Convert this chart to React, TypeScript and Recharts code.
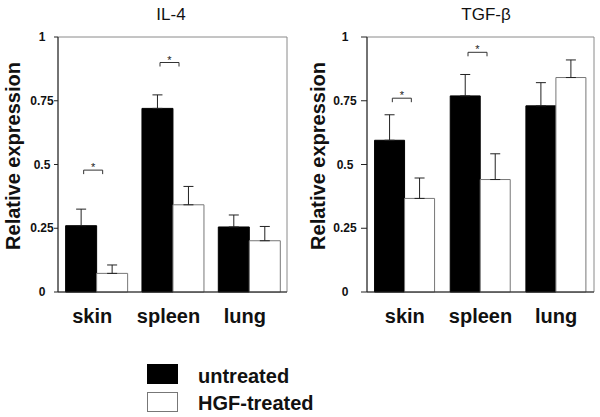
import React from 'react';
import { BarChart, Bar, XAxis, YAxis, ErrorBar, ReferenceArea, ReferenceDot, Label } from 'recharts';

const categories = ['skin', 'spleen', 'lung'];
const yTicks = [0, 0.25, 0.5, 0.75, 1];

// IL-4 panel
const il4Untreated = [0.26, 0.72, 0.255];
const il4UntreatedErr = [0.065, 0.053, 0.047];
const il4Treated = [0.073, 0.342, 0.201];
const il4TreatedErr = [0.033, 0.072, 0.056];
const il4Sig = [
  { category: 'skin', level: 0.478 },
  { category: 'spleen', level: 0.9 },
];

// TGF-beta panel
const tgfUntreated = [0.595, 0.769, 0.73];
const tgfUntreatedErr = [0.1, 0.084, 0.091];
const tgfTreated = [0.367, 0.441, 0.841];
const tgfTreatedErr = [0.08, 0.101, 0.069];
const tgfSig = [
  { category: 'skin', level: 0.76 },
  { category: 'spleen', level: 0.94 },
];

const legendItems = [
  { key: 'untreated', label: 'untreated', fill: '#000', stroke: '#000' },
  { key: 'treated', label: 'HGF-treated', fill: '#fff', stroke: '#777' },
];

const FONT = 'Arial, "Liberation Sans", Helvetica, sans-serif';

const buildRows = (untreated: number[], untreatedErr: number[], treated: number[], treatedErr: number[]) =>
  categories.map((name, i) => ({
    name,
    untreated: untreated[i],
    untreatedErr: [0, untreatedErr[i]],
    treated: treated[i],
    treatedErr: [0, treatedErr[i]],
  }));

// bracket + asterisk, drawn around the category position
const SigBracket = ({ cx, cy }: any) => {
  if (cx == null || cy == null) return null;
  return (
    <g>
      <path
        d={`M${cx - 12.5},${cy + 4} V${cy} H${cx + 6.5} V${cy + 4}`}
        stroke="#333"
        strokeWidth={1}
        fill="none"
      />
      <text x={cx - 3} y={cy + 1} textAnchor="middle" fontSize={11} fill="#222" fontFamily={FONT}>
        *
      </text>
    </g>
  );
};

interface PanelProps {
  title: string;
  rows: any[];
  sig: { category: string; level: number }[];
  left: number;
  axisWidth: number;
  marginRight: number;
  tickSize: number;
  tickOffset: number;
  labelX: number;
  xLabelDx: number;
  titleCenter: number;
}

const Panel: React.FC<PanelProps> = ({
  title, rows, sig, left, axisWidth, marginRight, tickSize, tickOffset, labelX, xLabelDx, titleCenter,
}) => {
  const YTick = ({ x, y, payload }: any) => (
    <text
      x={x - tickOffset}
      y={y}
      textAnchor="middle"
      dominantBaseline="central"
      fontSize={12}
      fontWeight="bold"
      fill="#111"
      fontFamily={FONT}
    >
      {payload.value}
    </text>
  );

  const XTick = ({ x, y, payload }: any) => (
    <text
      x={x + xLabelDx}
      y={y + 31}
      textAnchor="middle"
      fontSize={20}
      fontWeight="bold"
      fill="#111"
      fontFamily={FONT}
    >
      {payload.value}
    </text>
  );

  return (
    <div style={{ position: 'absolute', left, top: 0, width: 300, height: 340 }}>
      <div
        style={{
          position: 'absolute',
          left: titleCenter - 60,
          top: 6,
          width: 120,
          textAlign: 'center',
          fontSize: 17,
          lineHeight: '17px',
          color: '#111',
          fontFamily: FONT,
        }}
      >
        {title}
      </div>
      <BarChart
        width={300}
        height={340}
        data={rows}
        margin={{ top: 37, right: marginRight, bottom: 8, left: 0 }}
        barCategoryGap="10%"
        barGap={0}
      >
        <ReferenceArea y1={0} y2={1} fill="none" stroke="#8a8a8a" strokeWidth={1} ifOverflow="visible" />
        <XAxis
          dataKey="name"
          height={40}
          tickLine={false}
          tickSize={0}
          tickMargin={0}
          axisLine={{ stroke: '#222' }}
          tick={<XTick />}
          interval={0}
        />
        <YAxis
          width={axisWidth}
          domain={[0, 1]}
          ticks={yTicks}
          tickSize={tickSize}
          tickMargin={0}
          tickLine={{ stroke: '#222' }}
          axisLine={{ stroke: '#222' }}
          tick={<YTick />}
          interval={0}
        >
          <Label
            content={() => (
              <text
                x={labelX}
                y={156}
                transform={`rotate(-90 ${labelX} 156)`}
                textAnchor="middle"
                dominantBaseline="central"
                fontSize={20}
                fontWeight="bold"
                fill="#111"
                fontFamily={FONT}
              >
                Relative expression
              </text>
            )}
          />
        </YAxis>
        <Bar dataKey="untreated" fill="#000" stroke="#000" isAnimationActive={false}>
          <ErrorBar dataKey="untreatedErr" direction="y" width={5} stroke="#222" strokeWidth={1} isAnimationActive={false} />
        </Bar>
        <Bar dataKey="treated" fill="#fff" stroke="#777" isAnimationActive={false}>
          <ErrorBar dataKey="treatedErr" direction="y" width={5} stroke="#222" strokeWidth={1} isAnimationActive={false} />
        </Bar>
        {sig.map((s) => (
          <ReferenceDot
            key={s.category}
            x={s.category}
            y={s.level}
            r={0}
            ifOverflow="visible"
            shape={<SigBracket />}
          />
        ))}
      </BarChart>
    </div>
  );
};

const App: React.FC = () => {
  const il4Rows = buildRows(il4Untreated, il4UntreatedErr, il4Treated, il4TreatedErr);
  const tgfRows = buildRows(tgfUntreated, tgfUntreatedErr, tgfTreated, tgfTreatedErr);

  return (
    <div
      style={{
        position: 'absolute',
        left: 0,
        top: 0,
        width: 600,
        height: 417,
        background: '#fff',
        fontFamily: FONT,
        overflow: 'hidden',
      }}
    >
      <Panel
        title="IL-4"
        rows={il4Rows}
        sig={il4Sig}
        left={0}
        axisWidth={58}
        marginRight={13}
        tickSize={4}
        tickOffset={12}
        labelX={12.5}
        xLabelDx={-4}
        titleCenter={171}
      />
      <Panel
        title="TGF-β"
        rows={tgfRows}
        sig={tgfSig}
        left={300}
        axisWidth={67}
        marginRight={6}
        tickSize={6}
        tickOffset={16}
        labelX={18}
        xLabelDx={0}
        titleCenter={186}
      />

      {legendItems.map((item, i) => (
        <div key={item.key}>
          <div
            style={{
              position: 'absolute',
              left: 147,
              top: 364 + i * 28,
              width: 31,
              height: 20,
              background: item.fill,
              border: `1px solid ${item.stroke}`,
              boxSizing: 'border-box',
            }}
          />
          <div
            style={{
              position: 'absolute',
              left: 198,
              top: 366 + i * 27,
              fontSize: 20,
              lineHeight: '20px',
              fontWeight: 'bold',
              color: '#111',
              whiteSpace: 'nowrap',
            }}
          >
            {item.label}
          </div>
        </div>
      ))}
    </div>
  );
};

export default App;
